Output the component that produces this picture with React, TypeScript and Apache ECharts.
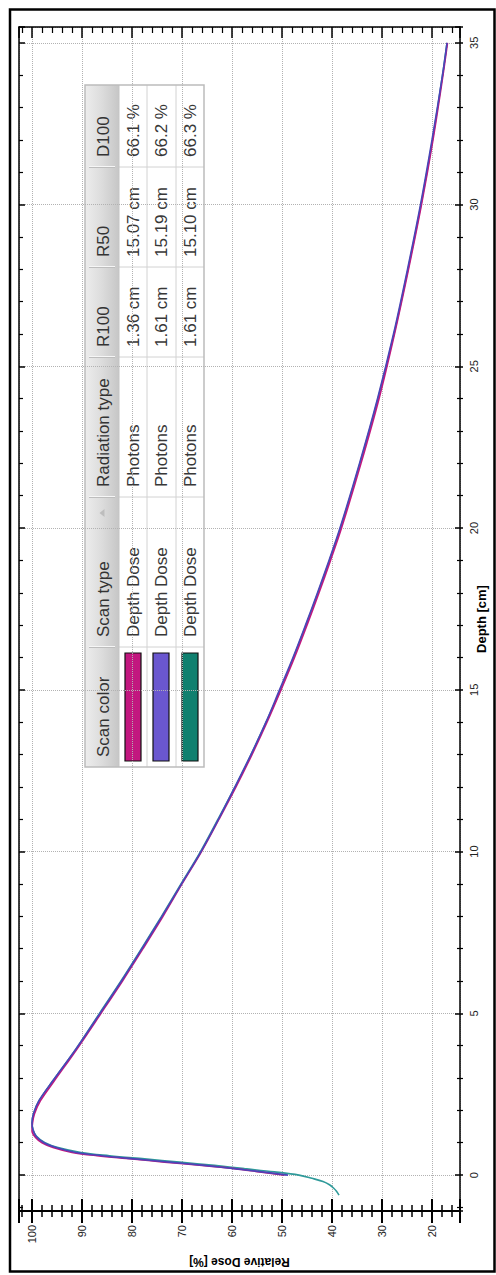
import { useEffect, useRef } from 'react';
import * as echarts from 'echarts';

// ---- Data (depth in cm, relative dose in %) ----
const depthMagenta = [0, 0.1, 0.2, 0.3, 0.4, 0.5, 0.6, 0.7, 0.85, 1.0, 1.15, 1.36, 1.6, 1.9, 2.3, 2.9, 3.9, 5, 6, 7, 8, 9, 10, 11, 12, 13, 14, 15, 16, 17, 18, 19, 20, 22, 24, 26, 28, 30, 32, 34, 35];
const doseMagenta = [49.5, 54.5, 59.5, 66, 73.5, 80, 87, 92, 95.8, 98, 99.2, 100, 99.9, 99.5, 98.3, 95.6, 91, 86.2, 81.9, 77.8, 73.8, 70.0, 66.1, 62.6, 59.2, 56.0, 53.0, 50.2, 47.5, 45.0, 42.6, 40.3, 38.1, 34.2, 30.6, 27.5, 24.7, 22.1, 19.8, 17.8, 16.9];

const depthBlue = [0, 0.1, 0.2, 0.3, 0.4, 0.5, 0.6, 0.7, 0.85, 1.0, 1.2, 1.4, 1.61, 1.9, 2.3, 2.9, 3.9, 5, 6, 7, 8, 9, 10, 11, 12, 13, 14, 15, 16, 17, 18, 19, 20, 22, 24, 26, 28, 30, 32, 34, 35];
const doseBlue = [48.8, 54, 59.5, 65.5, 72.5, 79.5, 86, 91.2, 95.2, 97.6, 99.2, 99.8, 100, 99.7, 98.6, 95.9, 91.2, 86.4, 82.1, 78.0, 74.0, 70.1, 66.2, 62.7, 59.4, 56.2, 53.2, 50.5, 47.8, 45.3, 42.9, 40.6, 38.4, 34.5, 30.9, 27.7, 24.9, 22.3, 20.0, 17.9, 17.0];

const depthTeal = [-0.62, -0.5, -0.4, -0.3, -0.2, -0.1, 0, 0.1, 0.2, 0.3, 0.4, 0.5, 0.6, 0.7, 0.85, 1.0, 1.2, 1.4, 1.61, 1.9, 2.3, 2.9, 3.9, 5, 6, 7, 8, 9, 10, 11, 12, 13, 14, 15, 16, 17, 18, 19, 20, 22, 24, 26, 28, 30, 32, 34, 35];
const doseTeal = [38.6, 39.1, 39.7, 40.5, 41.8, 44.0, 46.6, 51.5, 57.5, 63.5, 70.5, 77.5, 84.5, 90.2, 94.8, 97.4, 99.1, 99.8, 100, 99.7, 98.6, 95.9, 91.2, 86.5, 82.2, 78.1, 74.1, 70.2, 66.3, 62.8, 59.4, 56.2, 53.2, 50.3, 47.7, 45.2, 42.8, 40.5, 38.3, 34.4, 30.8, 27.6, 24.8, 22.2, 19.9, 17.9, 17.0];

// ---- Table content ----
const tableHeaders = ['Scan color', 'Scan type', 'Radiation type', 'R100', 'R50', 'D100'];
const scanColors = ['#c2177f', '#6a57cf', '#10806f'];
const scanTypes = ['Depth Dose', 'Depth Dose', 'Depth Dose'];
const radiationTypes = ['Photons', 'Photons', 'Photons'];
const r100Values = ['1.36 cm', '1.61 cm', '1.61 cm'];
const r50Values = ['15.07 cm', '15.19 cm', '15.10 cm'];
const d100Values = ['66.1 %', '66.2 %', '66.3 %'];

// ---- Axis ranges ----
const DOSE_MIN = 14.4;
const DOSE_MAX = 102.6;
const DEPTH_MIN = -1.11;
const DEPTH_MAX = 35.49;

const FONT = 'Liberation Sans, Arial, sans-serif';

function buildTable() {
  const colW = [120, 150, 140, 90, 100, 82];
  const headerH = 34;
  const rowH = [28, 29, 28];
  const W = colW.reduce((a, b) => a + b, 0);
  const H = headerH + rowH.reduce((a, b) => a + b, 0);
  const colX: number[] = [];
  let acc = 0;
  colW.forEach((w) => { colX.push(acc); acc += w; });
  const rowY: number[] = [];
  let ry = headerH;
  rowH.forEach((h) => { rowY.push(ry); ry += h; });

  const children: any[] = [];
  children.push({ type: 'rect', shape: { x: 0, y: 0, width: W, height: H }, style: { fill: '#ffffff' } });
  children.push({
    type: 'rect', shape: { x: 0, y: 0, width: W, height: headerH },
    style: {
      fill: { type: 'linear', x: 0, y: 0, x2: 0, y2: 1, colorStops: [
        { offset: 0, color: '#ededed' }, { offset: 0.5, color: '#dcdcdc' }, { offset: 1, color: '#c6c6c6' },
      ] },
    },
  });
  colX.slice(1).forEach((x) => {
    children.push({ type: 'line', shape: { x1: x + 0.5, y1: 4, x2: x + 0.5, y2: headerH - 4 }, style: { stroke: '#f6f6f6', lineWidth: 1 } });
    children.push({ type: 'line', shape: { x1: x - 0.5, y1: 4, x2: x - 0.5, y2: headerH - 4 }, style: { stroke: '#bdbdbd', lineWidth: 1 } });
  });
  colX.slice(1).forEach((x) => {
    children.push({ type: 'line', shape: { x1: x, y1: headerH, x2: x, y2: H }, style: { stroke: '#d2d2d2', lineWidth: 1 } });
  });
  rowY.slice(1).forEach((y) => {
    children.push({ type: 'line', shape: { x1: 0, y1: y, x2: W, y2: y }, style: { stroke: '#d2d2d2', lineWidth: 1 } });
  });
  children.push({ type: 'line', shape: { x1: 0, y1: headerH, x2: W, y2: headerH }, style: { stroke: '#c4c4c4', lineWidth: 1 } });
  children.push({ type: 'rect', shape: { x: 0, y: 0, width: W, height: H }, style: { fill: 'none', stroke: '#bcbcbc', lineWidth: 1.5 } });

  tableHeaders.forEach((t, i) => {
    children.push({
      type: 'text', x: colX[i] + 10, y: headerH / 2 + 1,
      style: { text: t, fill: '#333333', fontSize: 17, fontFamily: FONT, verticalAlign: 'middle', align: 'left' },
    });
  });
  const ax = colX[2] - 16;
  children.push({ type: 'polygon', shape: { points: [[ax - 4, 19.5], [ax + 4, 19.5], [ax, 14.5]] }, style: { fill: '#bdbdbd' } });

  const cols = [scanTypes, radiationTypes, r100Values, r50Values, d100Values];
  rowH.forEach((h, r) => {
    const y0 = rowY[r];
    children.push({
      type: 'rect', shape: { x: 6, y: y0 + 6, width: colW[0] - 12, height: 16 },
      style: { fill: scanColors[r], stroke: '#111111', lineWidth: 1.2 },
    });
    cols.forEach((col, c) => {
      children.push({
        type: 'text', x: colX[c + 1] + 10, y: y0 + h / 2,
        style: { text: col[r], fill: '#383838', fontSize: 17, fontFamily: FONT, verticalAlign: 'middle', align: 'left' },
      });
    });
  });

  return {
    type: 'group', x: 85, y: 85 + W, rotation: Math.PI / 2, z: 50, silent: true,
    children,
  };
}

function makeSeries(name: string, depth: number[], dose: number[], color: string, z: number) {
  return {
    name, type: 'line', xAxisIndex: 0, yAxisIndex: 0,
    data: depth.map((d, i) => [dose[i], d]),
    showSymbol: false, symbol: 'none', smooth: 0.35,
    lineStyle: { color, width: 1.6 }, itemStyle: { color }, z,
    clip: true,
  };
}

const tick = (width: number) => ({ color: '#000', width });

export default function App() {
  const ref = useRef<HTMLDivElement>(null);
  useEffect(() => {
    if (!ref.current) return;
    const chart = echarts.init(ref.current, null, { renderer: 'svg' });
    const xBase = { type: 'value', min: DOSE_MIN, max: DOSE_MAX, inverse: true, splitNumber: 9 };
    const yBase = { type: 'value', min: DEPTH_MIN, max: DEPTH_MAX, splitNumber: 7 };
    const grid = { color: '#b2b2b2', type: 'dotted', width: 1 };
    const option: any = {
      animation: false,
      backgroundColor: '#ffffff',
      grid: { left: 19, right: 36, top: 27, bottom: 64, containLabel: false, outerBoundsMode: 'none' },
      xAxis: [
        {
          ...xBase, position: 'bottom',
          axisLine: { show: true, onZero: false, lineStyle: { color: '#000', width: 2 } },
          axisTick: { show: true, inside: true, length: 12, lineStyle: tick(2) },
          minorTick: { show: true, splitNumber: 5, length: 6, lineStyle: tick(1.5) },
          splitLine: { show: true, lineStyle: grid },
          minorSplitLine: { show: false },
          axisLabel: { rotate: 90, margin: 14, fontSize: 11, color: '#222', fontFamily: FONT, showMinLabel: false, showMaxLabel: false },
          name: 'Relative Dose [%]', nameLocation: 'middle', nameRotate: 180, nameGap: 45,
          nameTextStyle: { fontWeight: 'bold', fontSize: 12, color: '#000', fontFamily: FONT },
        },
        {
          ...xBase, position: 'bottom',
          axisLine: { show: false, onZero: false },
          axisTick: { show: true, inside: false, length: 12, lineStyle: tick(2) },
          minorTick: { show: true, splitNumber: 5, length: 6, lineStyle: tick(1.5) },
          splitLine: { show: false }, axisLabel: { show: false },
        },
        {
          ...xBase, position: 'top',
          axisLine: { show: true, onZero: false, lineStyle: { color: '#000', width: 1.5 } },
          axisTick: { show: true, inside: true, length: 11, lineStyle: tick(1.5) },
          minorTick: { show: true, splitNumber: 5, length: 6, lineStyle: tick(1.2) },
          splitLine: { show: false }, axisLabel: { show: false },
        },
      ],
      yAxis: [
        {
          ...yBase, position: 'right',
          axisLine: { show: true, onZero: false, lineStyle: { color: '#000', width: 1.5 } },
          axisTick: { show: true, inside: true, length: 5, lineStyle: tick(1.5) },
          minorTick: { show: true, splitNumber: 5, length: 3, lineStyle: tick(1.2) },
          splitLine: { show: true, lineStyle: grid },
          minorSplitLine: { show: false },
          axisLabel: { rotate: 90, margin: 8, fontSize: 11, color: '#222', fontFamily: FONT, showMinLabel: false, showMaxLabel: false },
          name: 'Depth [cm]', nameLocation: 'middle', nameRotate: 90, nameGap: 15, nameMoveOverlap: false,
          nameTextStyle: { fontWeight: 'bold', fontSize: 13, color: '#000', fontFamily: FONT },
        },
        {
          ...yBase, position: 'right',
          axisLine: { show: false, onZero: false },
          axisTick: { show: true, inside: false, length: 3, lineStyle: tick(1.5) },
          minorTick: { show: true, splitNumber: 5, length: 3, lineStyle: tick(1.2) },
          splitLine: { show: false }, axisLabel: { show: false },
        },
        {
          ...yBase, position: 'left',
          axisLine: { show: true, onZero: false, lineStyle: { color: '#000', width: 1.5 } },
          axisTick: { show: true, inside: true, length: 6, lineStyle: tick(1.5) },
          minorTick: { show: true, splitNumber: 5, length: 4, lineStyle: tick(1.2) },
          splitLine: { show: false }, axisLabel: { show: false },
        },
      ],
      series: [
        makeSeries('Teal', depthTeal, doseTeal, '#2f9a9a', 3),
        makeSeries('Magenta', depthMagenta, doseMagenta, '#c2177f', 4),
        makeSeries('Blue', depthBlue, doseBlue, '#4a45b8', 5),
      ],
      graphic: {
        elements: [
          buildTable(),
          {
            type: 'rect', silent: true, z: 100,
            shape: { x: 10, y: 9.5, width: 484.5, height: 1262 },
            style: { fill: 'none', stroke: '#000', lineWidth: 2.5 },
          },
        ],
      },
    };
    chart.setOption(option);
    return () => chart.dispose();
  }, []);
  return (
    <div
      ref={ref}
      style={{ position: 'absolute', left: 0, top: 0, width: 496, height: 1275, background: '#fff' }}
    />
  );
}
